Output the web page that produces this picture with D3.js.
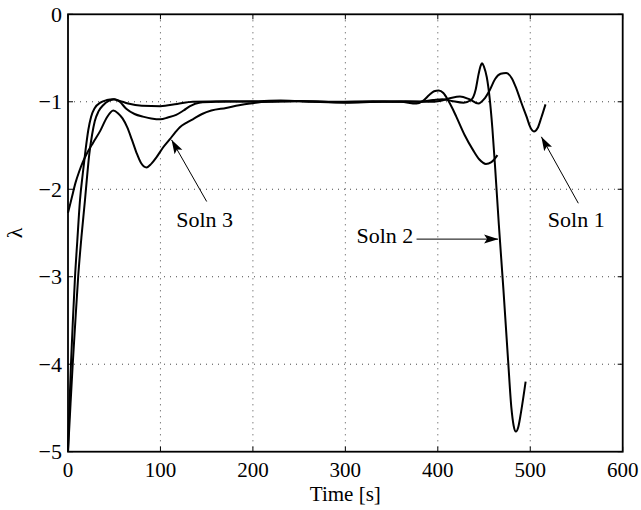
<!DOCTYPE html>
<html>
<head>
<meta charset="utf-8">
<script src="https://cdn.jsdelivr.net/npm/d3@7"></script>
<style>
    body { margin: 0; background: #fff; }
    svg text { font-family: "Liberation Serif", "Times New Roman", Times, serif; fill: #000; }
</style>
</head>
<body>
<div id="chart"></div>
<script>
// 坐标轴刻度
const xTicks = [0, 100, 200, 300, 400, 500, 600];
const yTicks = [0, -1, -2, -3, -4, -5];

// 三条解 [time, lambda]
const soln1 = [
    [0, -5], [1.5, -4.5], [3.2, -4], [5.5, -3.45], [7.6, -3], [10, -2.6], [13, -2.12],
    [16, -1.82], [19, -1.55], [22, -1.32], [25, -1.17], [29, -1.07], [35, -1.01],
    [42, -0.98], [49, -0.97], [56, -0.99], [65, -1.02], [80, -1.045], [100, -1.05],
    [118, -1.025], [135, -1.0], [170, -0.995], [210, -1.0], [250, -0.99], [290, -1.005],
    [330, -1.0], [365, -0.995], [390, -1.0], [402, -0.99], [413, -0.96], [424, -0.94],
    [434, -0.97], [444, -1.02], [450, -0.97], [456, -0.87], [462, -0.74], [468, -0.68],
    [474, -0.67], [480, -0.73], [485, -0.85], [490, -1.0], [496, -1.17], [500, -1.29],
    [504, -1.34], [508, -1.3], [512, -1.18], [516.5, -1.03]
];

const soln2 = [
    [0, -5], [2.5, -4.5], [5.1, -4], [8, -3.5], [11, -3], [14.5, -2.55], [18.4, -2.12],
    [20.5, -1.87], [23, -1.6], [26, -1.38], [29, -1.22], [33, -1.11], [38, -1.04],
    [44, -0.99], [50, -0.97], [56, -1.0], [63, -1.08], [72, -1.14], [81, -1.17],
    [90, -1.19], [100, -1.2], [108, -1.18], [117, -1.15], [125, -1.1], [132, -1.05],
    [142, -1.01], [160, -1.0], [200, -0.995], [230, -0.985], [265, -1.0], [300, -1.01],
    [340, -1.0], [380, -1.0], [395, -0.98], [405, -0.97], [415, -0.99], [428, -1.01],
    [436, -0.98], [441, -0.86], [444, -0.69], [446, -0.6], [448, -0.56], [450, -0.6],
    [453, -0.72], [456, -0.95], [459, -1.3], [462, -1.75], [466, -2.4], [471, -3.15],
    [476, -3.95], [479.6, -4.5], [482, -4.7], [484.5, -4.77], [487, -4.72], [490, -4.55],
    [495, -4.2]
];

const soln3 = [
    [0, -2.27], [4, -2.1], [8, -1.93], [12, -1.8], [16, -1.69], [20, -1.6], [27, -1.47],
    [35, -1.33], [42, -1.18], [49, -1.1], [54, -1.13], [59, -1.19], [64, -1.29],
    [69, -1.43], [74, -1.58], [79, -1.7], [85, -1.75], [90, -1.71], [96, -1.63],
    [103, -1.52], [110, -1.43], [116, -1.35], [121, -1.29], [128, -1.24], [135, -1.2],
    [145, -1.14], [155, -1.1], [171, -1.07], [185, -1.04], [197, -1.02], [215, -1.0],
    [250, -0.995], [290, -1.0], [330, -0.995], [360, -1.0], [377, -1.02], [384, -0.99],
    [391, -0.92], [396, -0.88], [401, -0.87], [406, -0.9], [411, -0.98], [416, -1.08],
    [420, -1.17], [429, -1.38], [438, -1.55], [445, -1.66], [452, -1.71], [458, -1.69],
    [464.5, -1.61]
];

const seriesList = [soln1, soln2, soln3];

const width = 641;
const height = 510;
const plot = { left: 68, right: 622.7, top: 14.3, bottom: 451.7 };

const x = d3.scaleLinear().domain([0, 600]).range([plot.left, plot.right]);
const y = d3.scaleLinear().domain([-5, 0]).range([plot.bottom, plot.top]);

// 标注：文字位置、箭头起点与终点（数据坐标）
const notes = [
    { text: 'Soln 1', at: [519, -2.43], anchor: 'start', from: [552, -2.16], to: [512, -1.40] },
    { text: 'Soln 2', at: [373.5, -2.62], anchor: 'end', from: [377, -2.57], to: [465.2, -2.57] },
    { text: 'Soln 3', at: [117, -2.43], anchor: 'start', from: [150, -2.14], to: [112, -1.435] }
];

const fmt = v => (v < 0 ? '\u2212' + Math.abs(v) : String(v));

const svg = d3.select('#chart').append('svg')
    .attr('width', width)
    .attr('height', height)
    .attr('font-family', '"Liberation Serif", "Times New Roman", Times, serif');

svg.append('defs').append('marker')
    .attr('id', 'arrow')
    .attr('viewBox', '0 -5 14 10')
    .attr('refX', 14)
    .attr('refY', 0)
    .attr('markerUnits', 'userSpaceOnUse')
    .attr('markerWidth', 14)
    .attr('markerHeight', 10)
    .attr('orient', 'auto')
    .append('path')
    .attr('d', 'M0,-4.5L14,0L0,4.5L3,0Z')
    .attr('fill', '#000');

// 网格
const grid = svg.append('g').attr('class', 'grid')
    .attr('stroke', '#333')
    .attr('stroke-width', 0.9)
    .attr('stroke-dasharray', '1,5');

grid.selectAll('line.vx')
    .data(xTicks.filter(d => d > 0 && d < 600))
    .enter().append('line')
    .attr('x1', d => x(d)).attr('x2', d => x(d))
    .attr('y1', plot.top).attr('y2', plot.bottom);

grid.selectAll('line.hy')
    .data(yTicks.filter(d => d < 0 && d > -5))
    .enter().append('line')
    .attr('x1', plot.left).attr('x2', plot.right)
    .attr('y1', d => y(d)).attr('y2', d => y(d));

// 曲线
const line = d3.line()
    .x(d => x(d[0]))
    .y(d => y(d[1]))
    .curve(d3.curveMonotoneX);

svg.append('g')
    .selectAll('path')
    .data(seriesList)
    .enter().append('path')
    .attr('d', line)
    .attr('fill', 'none')
    .attr('stroke', '#000')
    .attr('stroke-width', 2)
    .attr('stroke-linejoin', 'round');

// 坐标轴（内向刻度，四边）
const tickLen = 5;
const axisG = svg.append('g').attr('stroke', '#000').attr('stroke-width', 1);

xTicks.forEach(t => {
    axisG.append('line').attr('x1', x(t)).attr('x2', x(t))
        .attr('y1', plot.bottom).attr('y2', plot.bottom - tickLen);
    axisG.append('line').attr('x1', x(t)).attr('x2', x(t))
        .attr('y1', plot.top).attr('y2', plot.top + tickLen);
});
yTicks.forEach(t => {
    axisG.append('line').attr('x1', plot.left).attr('x2', plot.left + tickLen)
        .attr('y1', y(t)).attr('y2', y(t));
    axisG.append('line').attr('x1', plot.right).attr('x2', plot.right - tickLen)
        .attr('y1', y(t)).attr('y2', y(t));
});

svg.append('rect')
    .attr('x', plot.left).attr('y', plot.top)
    .attr('width', plot.right - plot.left)
    .attr('height', plot.bottom - plot.top)
    .attr('fill', 'none')
    .attr('stroke', '#000')
    .attr('stroke-width', 1.8);

svg.append('g')
    .selectAll('text')
    .data(xTicks)
    .enter().append('text')
    .attr('x', d => x(d))
    .attr('y', 477)
    .attr('text-anchor', 'middle')
    .attr('font-size', '21px')
    .text(d => d);

svg.append('g')
    .selectAll('text')
    .data(yTicks)
    .enter().append('text')
    .attr('x', 62)
    .attr('y', d => y(d))
    .attr('dy', '0.34em')
    .attr('text-anchor', 'end')
    .attr('font-size', '22px')
    .text(fmt);

svg.append('text')
    .attr('x', x(300))
    .attr('y', 501)
    .attr('text-anchor', 'middle')
    .attr('font-size', '21px')
    .text('Time [s]');

svg.append('text')
    .attr('transform', `translate(22, ${(plot.top + plot.bottom) / 2}) rotate(-90)`)
    .attr('text-anchor', 'middle')
    .attr('font-size', '22px')
    .text('λ');

// 标注
const noteG = svg.append('g');
notes.forEach(n => {
    noteG.append('line')
        .attr('x1', x(n.from[0])).attr('y1', y(n.from[1]))
        .attr('x2', x(n.to[0])).attr('y2', y(n.to[1]))
        .attr('stroke', '#000')
        .attr('stroke-width', 1)
        .attr('marker-end', 'url(#arrow)');
    noteG.append('text')
        .attr('x', x(n.at[0])).attr('y', y(n.at[1]))
        .attr('text-anchor', n.anchor)
        .attr('font-size', '22px')
        .text(n.text);
});
</script>
</body>
</html>
